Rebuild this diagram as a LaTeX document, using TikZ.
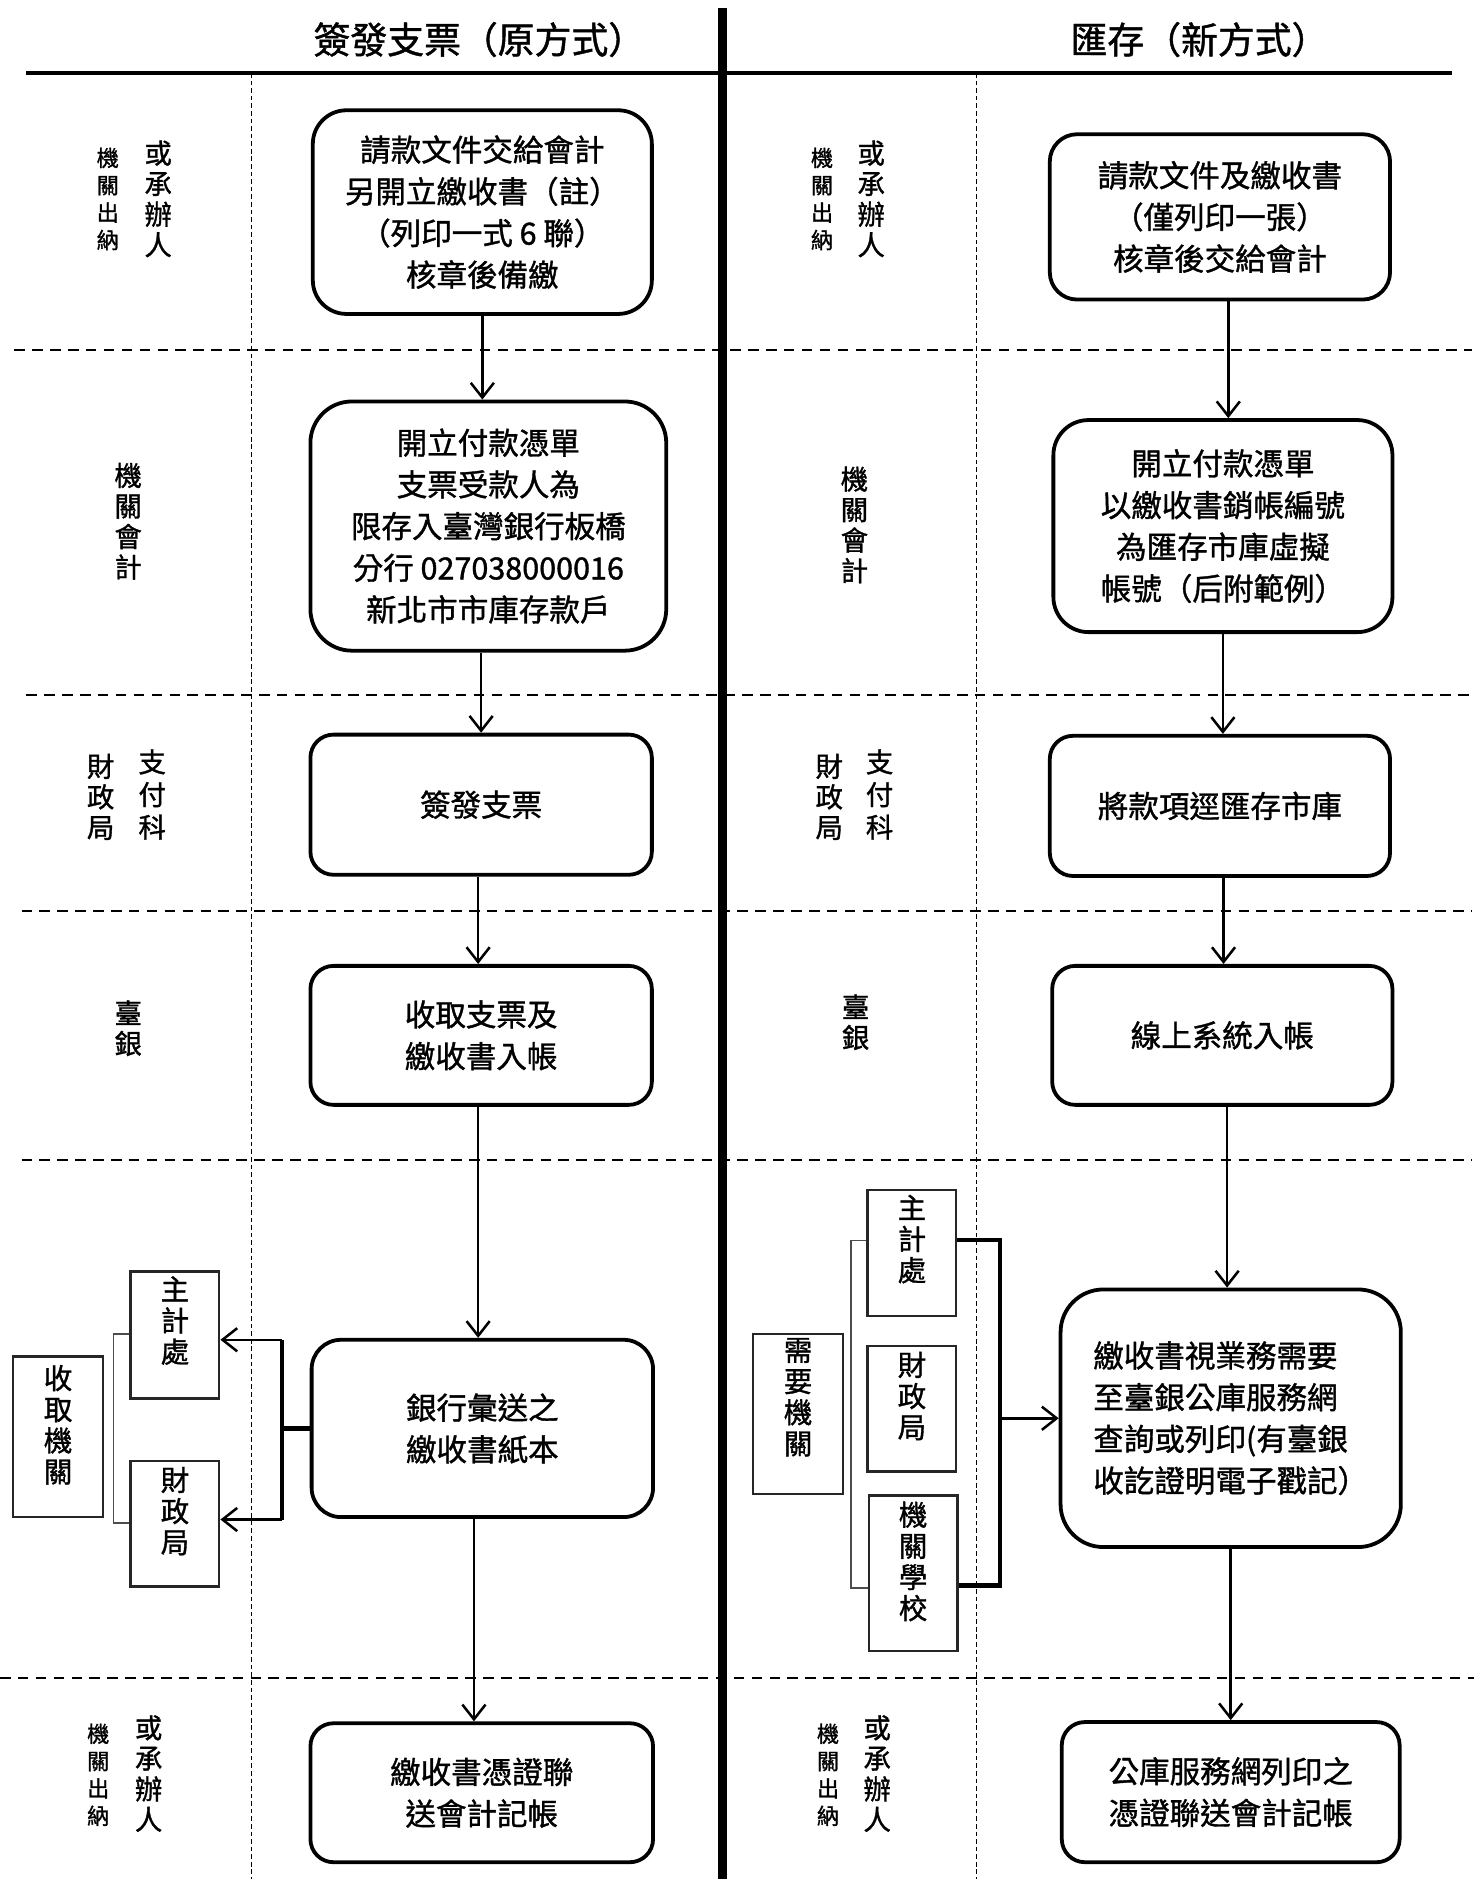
\documentclass[tikz,border=0pt]{standalone}
\usepackage{fontspec}
\setmainfont{Noto Sans CJK TC}[FakeBold=1.2]
\usetikzlibrary{arrows.meta,calc}
\newcommand\setfs[2]{\fontsize{#1pt}{#2pt}\selectfont}
\tikzset{
  box/.style={draw, line width=1.8pt, align=center, inner sep=0pt, font=\setfs{14.5}{19.8}},
  ttl/.style={inner sep=0pt, font=\setfs{17.5}{20}},
  lab/.style={align=center, inner sep=0pt, font=\setfs{13}{14.5}},
  labs/.style={align=center, inner sep=0pt, font=\setfs{10.5}{13}},
  sbox/.style={draw=black!85, line width=1.1pt, minimum width=1.48cm, inner sep=0pt},
  stext/.style={align=center, inner sep=0pt, font=\setfs{13.5}{14.8}},
  arr/.style={line width=1.2pt, -{Straight Barb[length=7pt,width=11pt]}},
  bar/.style={line width=2pt},
  brk/.style={line width=0.7pt, draw=black!70},
  hdash/.style={line width=0.9pt, dash pattern=on 5pt off 3.5pt},
  vdash/.style={line width=0.5pt, dash pattern=on 2.2pt off 1.4pt},
}
\begin{document}
\begin{tikzpicture}[x=0.02cm,y=-0.02cm]
\useasboundingbox (0,0) rectangle (1230,1568);
\fill[white] (0,0) rectangle (1230,1568);

% titles and frame lines
\node[ttl] (T1) at (400,33) {簽發支票（原方式）};
\node[ttl] (T2) at (1001,33) {匯存（新方式）};
\draw[line width=1.6pt] (22,61) -- (1212,61);
\draw[vdash] (210,61) -- (210,1568);
\draw[vdash] (815,61) -- (815,1568);
\draw[hdash] (12,292) -- (1228,292);
\draw[hdash] (22,580) -- (1228,580);
\draw[hdash] (18,760) -- (1228,760);
\draw[hdash] (18,968) -- (1228,968);
\draw[hdash] (0,1400) -- (1230,1400);
\draw[line width=4.5pt] (603,7) -- (603,1568);

% row labels left
\node[labs] (l1a) at (90,166) {機\\關\\出\\納};
\node[lab] (l1b) at (132,166) {或\\承\\辦\\人};
\node[lab] (l2) at (107,435) {機\\關\\會\\計};
\node[lab] (l3a) at (84,665) {財\\政\\局};
\node[lab, font=\setfs{13}{15.5}] (l3b) at (127,663) {支\\付\\科};
\node[lab] (l4) at (107,858) {臺\\銀};
\node[labs] (l6a) at (82,1481) {機\\關\\出\\納};
\node[lab] (l6b) at (124,1480) {或\\承\\辦\\人};

% row labels right
\node[labs] (r1a) at (686,166) {機\\關\\出\\納};
\node[lab] (r1b) at (727,166) {或\\承\\辦\\人};
\node[lab] (r2) at (713,438) {機\\關\\會\\計};
\node[lab] (r3a) at (692,665) {財\\政\\局};
\node[lab, font=\setfs{13}{15.5}] (r3b) at (734,663) {支\\付\\科};
\node[lab] (r4) at (714,853) {臺\\銀};
\node[labs] (r6a) at (691,1481) {機\\關\\出\\納};
\node[lab] (r6b) at (732,1480) {或\\承\\辦\\人};

% left flow boxes
\node[box, minimum width=5.66cm, minimum height=3.4cm, rounded corners=16pt] (L1) at (402.5,177)
  {請款文件交給會計\\另開立繳收書（註）\\（列印一式 6 聯）\\核章後備繳};
\node[box, minimum width=5.94cm, minimum height=4.16cm, rounded corners=19.7pt] (L2) at (407.5,439)
  {開立付款憑單\\支票受款人為\\限存入臺灣銀行板橋\\分行 027038000016\\新北市市庫存款戶};
\node[box, minimum width=5.7cm, minimum height=2.34cm, rounded corners=11pt] (L3) at (401.5,671.5)
  {簽發支票};
\node[box, minimum width=5.7cm, minimum height=2.32cm, rounded corners=11pt] (L4) at (401.5,864)
  {收取支票及\\繳收書入帳};
\node[box, minimum width=5.7cm, minimum height=2.96cm, rounded corners=14pt] (L5) at (402.5,1192)
  {銀行彙送之\\繳收書紙本};
\node[box, minimum width=5.72cm, minimum height=2.32cm, rounded corners=11pt] (L6) at (402,1496)
  {繳收書憑證聯\\送會計記帳};

% right flow boxes
\node[box, minimum width=5.68cm, minimum height=2.76cm, rounded corners=13pt] (R1) at (1018,181)
  {請款文件及繳收書\\（僅列印一張）\\核章後交給會計};
\node[box, minimum width=5.66cm, minimum height=3.54cm, rounded corners=16.7pt] (R2) at (1020.5,439)
  {開立付款憑單\\以繳收書銷帳編號\\為匯存市庫虛擬\\帳號（后附範例）};
\node[box, minimum width=5.68cm, minimum height=2.34cm, rounded corners=11pt] (R3) at (1018,672.5)
  {將款項逕匯存市庫};
\node[box, minimum width=5.68cm, minimum height=2.32cm, rounded corners=11pt] (R4) at (1020,864)
  {線上系統入帳};
\node[box, align=left, minimum width=5.68cm, minimum height=4.3cm, rounded corners=20.3pt] (R5) at (1027,1183.5)
  {繳收書視業務需要\\至臺銀公庫服務網\\查詢或列印(有臺銀\\收訖證明電子戳記）};
\node[box, minimum width=5.64cm, minimum height=2.34cm, rounded corners=11pt] (R6) at (1027,1495.5)
  {公庫服務網列印之\\憑證聯送會計記帳};

% vertical arrows left
\draw[arr] (L1.south) -- (L1.south |- L2.north);
\draw[arr] (L3.north |- L2.south) -- (L3.north);
\draw[arr] ([xshift=-0.05cm]L3.south) -- ([xshift=-0.05cm]L3.south |- L4.north);
\draw[arr] ([xshift=-0.05cm]L4.south) -- ([xshift=-0.05cm]L4.south |- L5.north);
\draw[arr] ([xshift=-0.14cm]L5.south) -- ([xshift=-0.14cm]L5.south |- L6.north);

% vertical arrows right
\draw[arr] ([xshift=0.14cm]R1.south) -- ([xshift=0.14cm]R1.south |- R2.north);
\draw[arr] (R2.south) -- (R2.south |- R3.north);
\draw[arr] ([xshift=0.06cm]R3.south) -- ([xshift=0.06cm]R3.south |- R4.north);
\draw[arr] ([xshift=0.08cm]R4.south) -- ([xshift=0.08cm]R4.south |- R5.north);
\draw[arr] (R5.south) -- (R5.south |- R6.north);

% left receiving group
\node[sbox, minimum height=2.12cm] (LA) at (146,1114) {};
\node[stext] (LAt) at (146,1102) {主\\計\\處};
\node[sbox, minimum height=2.1cm] (LB) at (146,1271.5) {};
\node[stext] (LBt) at (146,1261) {財\\政\\局};
\node[sbox, minimum width=1.5cm, minimum height=2.68cm] (LC) at (48.5,1199) {};
\node[stext] (LCt) at (48.5,1189) {收\\取\\機\\關};
\draw[brk] (LA.west |- 0,1113) -- (94.6,1113) -- (94.6,1271) -- (LB.west |- 0,1271);
\coordinate (lbt) at (235,1118);
\coordinate (lbb) at (235,1268);
\draw[bar] (lbt) -- (lbb);
\draw[bar] (L5.west) -- (L5.west -| lbt);
\draw[arr] (lbt) -- (lbt -| LA.east);
\draw[arr] (lbb) -- (lbb -| LB.east);

% right needing group
\node[sbox, minimum height=2.1cm] (RA) at (761,1045.5) {};
\node[stext] (RAt) at (761,1034) {主\\計\\處};
\node[sbox, minimum height=2.1cm] (RB) at (761,1175.5) {};
\node[stext] (RBt) at (761,1165) {財\\政\\局};
\node[sbox, minimum height=2.6cm] (RC) at (762,1313) {};
\node[stext] (RCt) at (762,1303) {機\\關\\學\\校};
\node[sbox, minimum width=1.5cm, minimum height=2.67cm] (RD) at (666,1180) {};
\node[stext] (RDt) at (666,1166) {需\\要\\機\\關};
\draw[brk] (RA.west |- 0,1035) -- (710,1035) -- (710,1325) -- (RC.west |- 0,1325);
\coordinate (rbt) at (834.6,1035);
\coordinate (rbb) at (834.6,1323);
\draw[bar] (RA.east |- rbt) -- (rbt) -- (rbb) -- (RC.east |- rbb);
\draw[arr] (rbt |- R5.west) -- (R5.west);
\end{tikzpicture}
\end{document}
